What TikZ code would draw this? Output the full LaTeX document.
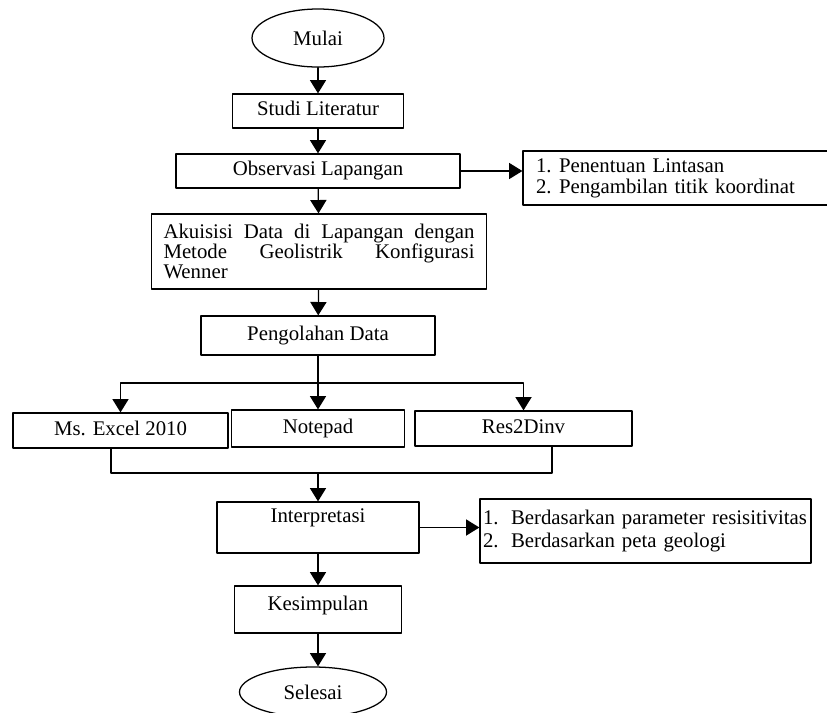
\documentclass[tikz,border=0pt]{standalone}
\usepackage{fontspec}
\setmainfont{Liberation Serif}
\usetikzlibrary{arrows.meta,calc,shapes.geometric}

% one justified line of fixed width
\newcommand{\fullline}[1]{\makebox[7.775cm][s]{\spaceskip=0pt\xspaceskip=0pt\relax #1}}

\begin{document}
\begin{tikzpicture}[x=0.025cm, y=-0.025cm, line cap=round, line join=round,
  font=\fontsize{14.8}{14.2}\selectfont]

% ---------------- styles ----------------
\def\px{0.025cm}
\tikzset{
  box/.style={draw, line width=0.9pt, inner sep=0pt, text height=10pt, text depth=3.5pt},
  term/.style={draw, ellipse, line width=0.9pt, inner sep=0pt},
  flow/.style={-{Triangle[width=11.5pt,length=9.5pt]}, line width=0.9pt},
  link/.style={line width=0.9pt},
  listbox/.style={draw, line width=0.9pt, inner sep=0pt, align=left}
}

\useasboundingbox (0,0) rectangle (827,712);

% ---------------- main column ----------------
\node[term, minimum width=132*\px, minimum height=58*\px] (mulai) at (318,38) {Mulai};
\node[box, minimum width=171*\px, minimum height=34*\px] (studi) at (318,111) {Studi Literatur};
\node[box, minimum width=284*\px, minimum height=34*\px] (obs) at (318,171) {Observasi Lapangan};
\node[draw, line width=0.9pt, inner sep=0pt, minimum width=335*\px, minimum height=75*\px,
  text width=311*\px, align=left] (akuisisi) at (319,251.5)
  {\fullline{Akuisisi Data di Lapangan dengan}\\
   \fullline{Metode Geolistrik Konfigurasi}\\
   Wenner};
\node[box, minimum width=234*\px, minimum height=39*\px] (olah) at (318,335.5) {Pengolahan Data};

% software boxes
\coordinate (split) at (318,383);
\node[box, minimum width=215*\px, minimum height=35*\px] (excel) at (120.5,430.5) {Ms. Excel 2010};
\node[box, minimum width=173*\px, minimum height=37*\px] (notepad) at (318,428.5) {Notepad};
\node[box, minimum width=217*\px, minimum height=35*\px] (res) at (523.5,428.5) {Res2Dinv};
\coordinate (merge) at (318,473);

\node[box, minimum width=202*\px, minimum height=51*\px, text depth=16.5pt] (interp) at (318,527.5) {Interpretasi};
\node[box, minimum width=167*\px, minimum height=47*\px, text depth=9pt] (kes) at (318,609.5) {Kesimpulan};
\node[term, minimum width=147*\px, minimum height=50*\px] (selesai) at (313,692) {Selesai};

% ---------------- side notes ----------------
\node[listbox, minimum width=312*\px, minimum height=54*\px, text width=286*\px,
  font=\fontsize{14.8}{14.9}\selectfont] (lintasan) at (679,178)
  {\makebox[0.575cm][l]{1.}Penentuan Lintasan\\
   \makebox[0.575cm][l]{2.}Pengambilan titik koordinat};
\node[listbox, minimum width=331*\px, minimum height=64*\px, text width=325*\px,
  font=\fontsize{14.8}{16.3}\selectfont] (berdasar) at (645.5,531)
  {\makebox[0.7cm][l]{1.}\mbox{Berdasarkan parameter resisitivitas}\\
   \makebox[0.7cm][l]{2.}Berdasarkan peta geologi};

% ---------------- connectors ----------------
\draw[flow] (mulai) -- (studi);
\draw[flow] (studi) -- (obs);
\draw[flow] (obs) -- (akuisisi);
\draw[flow] (akuisisi) -- (olah);
\draw[flow] (obs) -- (obs -| lintasan.west);

\draw[link] (olah) -- (split);
\draw[flow] (split) -| (excel);
\draw[flow] (split) -- (notepad);
\draw[flow] (split) -| (res);

\draw[link] ($(excel.south)+(-9.5,0)$) |- (merge) -| ($(res.south)+(28.5,0)$);
\draw[flow] (merge) -- (interp);
\draw[flow] (interp) -- (interp -| berdasar.west);
\draw[flow] (interp) -- (kes);
\draw[flow] (kes) -- (kes |- selesai.north);

\end{tikzpicture}
\end{document}
